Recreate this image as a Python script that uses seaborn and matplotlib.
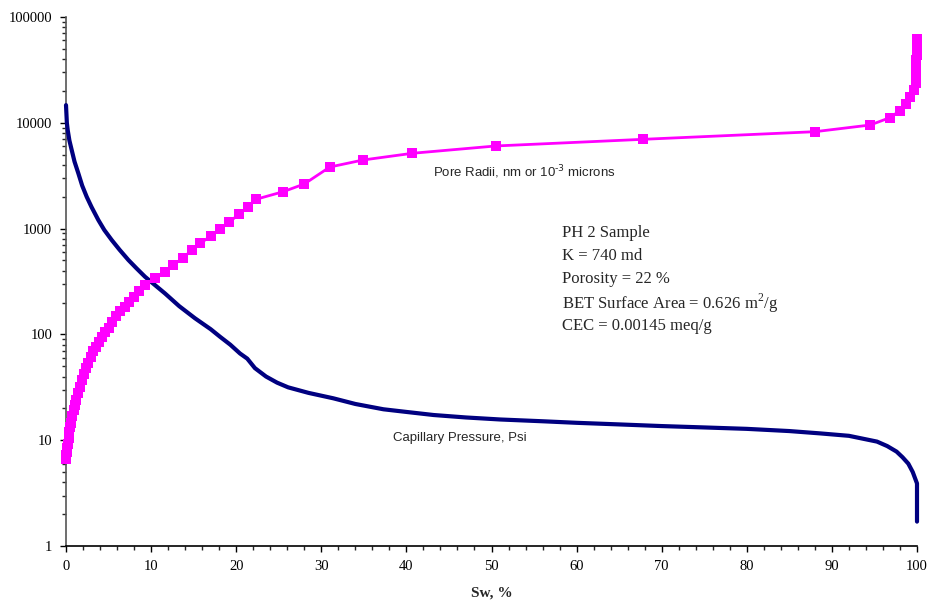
import matplotlib
matplotlib.use("Agg")
import matplotlib.pyplot as plt
import matplotlib.ticker as mticker
import seaborn as sns
import pandas as pd

# Capillary pressure curve (Psi) vs water saturation Sw (%)
pc_sw = [0.0, 0.1, 0.2, 0.4, 0.67, 1.0, 1.45, 1.9, 2.43, 3.0, 3.8, 4.5, 5.37,
         6.3, 7.33, 8.3, 9.28, 10.4, 11.63, 13.3, 15.16, 17.0, 18.1, 19.3,
         20.45, 21.3, 22.2, 23.5, 24.8, 26.1, 28.5, 31.4, 34.0, 37.3, 40.0,
         43.2, 47.0, 51.0, 56.0, 60.0, 65.0, 70.0, 75.0, 80.0, 85.0, 88.6,
         92.0, 95.3, 96.5, 97.6, 98.3, 98.98, 99.5, 100.0, 100.0]
pc_val = [14700, 10000, 8550, 6800, 5530, 4300, 3330, 2550, 2000, 1600, 1205,
          970, 780, 630, 505, 420, 351, 295, 244, 185, 142, 112, 95, 80,
          66, 59, 48, 40, 35, 31.6, 28, 24.9, 22, 19.6, 18.5,
          17.3, 16.4, 15.7, 15.1, 14.6, 14.1, 13.6, 13.2, 12.8, 12.2, 11.6,
          11.0, 9.7, 8.8, 7.8, 6.9, 6.0, 5.0, 3.9, 1.7]

# Pore radii (nm) vs Sw (%)
pr_sw = [0.0, 0.05, 0.1, 0.15, 0.2, 0.3, 0.4, 0.5, 0.6, 0.75, 0.9, 1.05, 1.2,
         1.4, 1.6, 1.85, 2.1, 2.35, 2.6, 2.9, 3.2, 3.5, 3.85, 4.2, 4.6, 5.0,
         5.45, 5.9, 6.4, 6.9, 7.45, 8.0, 8.6, 9.25, 10.45, 11.6, 12.6, 13.7,
         14.8, 15.8, 17.0, 18.1, 19.2, 20.35, 21.4, 22.3, 25.5, 28.0, 31.0,
         34.9, 40.7, 50.5, 67.8, 88.0, 94.5, 96.8, 98.0, 98.7, 99.2, 99.6,
         99.85, 99.88, 99.9, 99.92, 99.94, 99.96, 99.97, 99.98, 99.99]
pr_val = [6.6, 7.2, 7.8, 8.5, 9.2, 10.5, 12, 13.3, 14.5, 17, 19.3, 21.5, 24,
          28, 31.5, 37, 42, 48, 54, 61, 69, 76, 85, 95, 106, 116,
          130, 150, 165, 182, 202, 225, 255, 292, 339, 391, 453, 524,
          628, 726, 851, 985, 1160, 1365, 1610, 1890, 2230, 2640, 3820,
          4450, 5150, 6040, 6980, 8240, 9530, 11170, 13020, 15070, 17420, 20400,
          23800, 27000, 30500, 34500, 39000, 44000, 50000, 56000, 62000]

x_ticks = [0, 10, 20, 30, 40, 50, 60, 70, 80, 90, 100]
y_ticks = [1, 10, 100, 1000, 10000, 100000]
info_lines = ["PH 2 Sample", "K = 740 md", "Porosity = 22 %",
              "BET Surface Area = 0.626 m$^2$/g", "CEC = 0.00145 meq/g"]

sns.set_style("ticks")
plt.rcParams["font.family"] = ["Liberation Serif", "DejaVu Serif"]
plt.rcParams["mathtext.fontset"] = "custom"
plt.rcParams["mathtext.rm"] = "Liberation Serif"

fig = plt.figure(figsize=(9.32, 6.06), dpi=100)
ax = fig.add_axes([66 / 932, 1 - 546 / 606, (917 - 66) / 932, (546 - 17) / 606])

df_pc = pd.DataFrame({"Sw": pc_sw, "val": pc_val})
df_pr = pd.DataFrame({"Sw": pr_sw, "val": pr_val})

sns.lineplot(data=df_pc, x="Sw", y="val", estimator=None, sort=False,
             color="#000080", linewidth=3.0, ax=ax, clip_on=False, zorder=3)
sns.lineplot(data=df_pr, x="Sw", y="val", estimator=None, sort=False,
             color="#FF00FF", linewidth=2.0, marker="s", markersize=7.5,
             markeredgewidth=0, ax=ax, clip_on=False, zorder=4)

ax.set_yscale("log")
ax.set_xlim(0, 100)
ax.set_ylim(1, 100000)
ax.set_xticks(x_ticks)
ax.set_xticklabels([str(t) for t in x_ticks])
ax.xaxis.set_minor_locator(mticker.MultipleLocator(2))
ax.set_yticks(y_ticks)
ax.set_yticklabels([str(t) for t in y_ticks])
ax.yaxis.set_minor_locator(mticker.LogLocator(base=10, subs=range(2, 10), numticks=20))
ax.yaxis.set_minor_formatter(mticker.NullFormatter())

ax.tick_params(axis="both", which="major", direction="out", length=4, width=1,
               labelsize=10.5, colors="black", pad=6)
ax.tick_params(axis="both", which="minor", direction="out", length=3, width=1)

for s in ["top", "right"]:
    ax.spines[s].set_visible(False)
ax.spines["left"].set_color("#555555")
ax.spines["bottom"].set_color("black")
ax.spines["left"].set_linewidth(1.2)
ax.spines["bottom"].set_linewidth(1.2)

ax.set_ylabel("")
ax.set_xlabel("Sw, %", fontsize=11, fontweight="bold", labelpad=10)

ax.text(433 / 932, 1 - 172 / 606, r"Pore Radii, nm or 10$^{\text{-3}}$ microns",
        transform=fig.transFigure, fontsize=9.5, ha="left", va="center",
        family=["Liberation Sans", "DejaVu Sans"], math_fontfamily="dejavusans")
ax.text(393 / 932, 1 - 438 / 606, "Capillary Pressure, Psi",
        transform=fig.transFigure, fontsize=9.5, ha="left", va="center",
        family=["Liberation Sans", "DejaVu Sans"])

y_positions = [233, 256, 279, 303, 326]
for line, yp in zip(info_lines, y_positions):
    ax.text(562 / 932, 1 - yp / 606, line, transform=fig.transFigure,
            fontsize=12, ha="left", va="center")

fig.savefig("out.png", dpi=100)
